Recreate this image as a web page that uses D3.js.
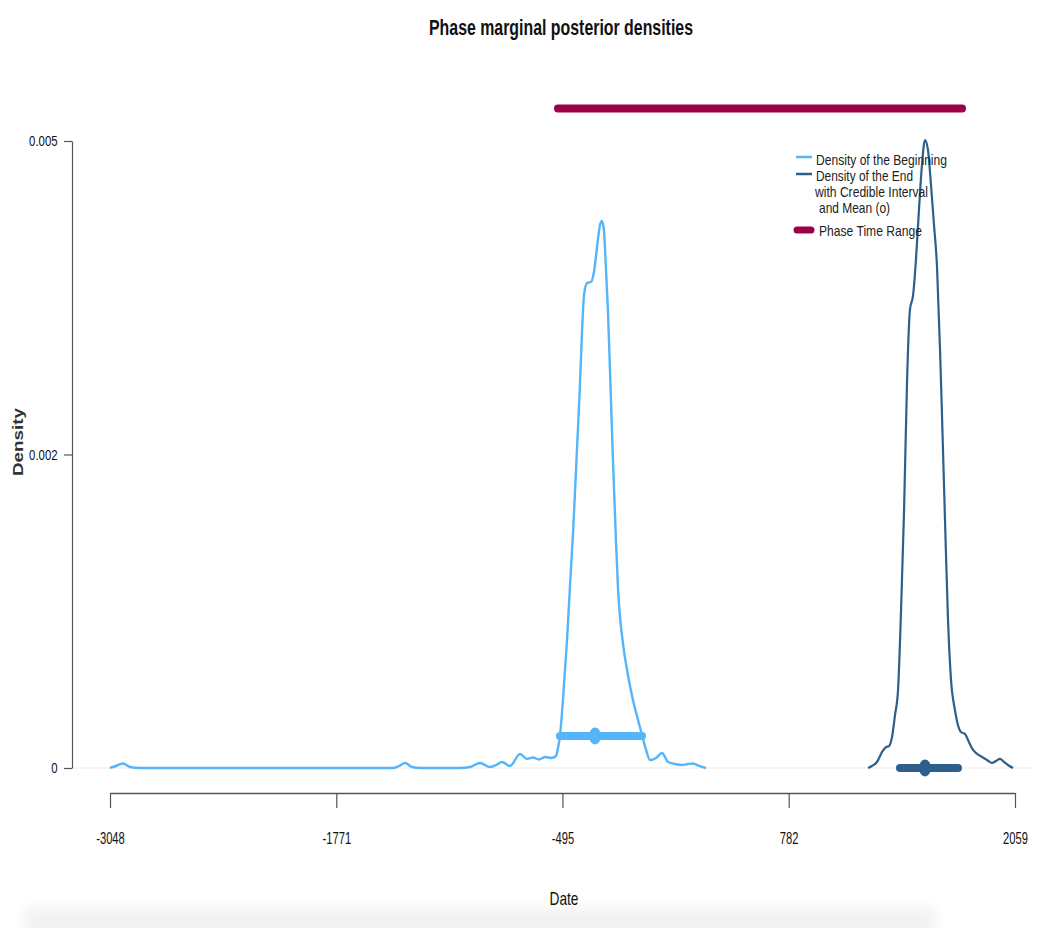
<!DOCTYPE html>
<html><head><meta charset="utf-8">
<script src="https://cdn.jsdelivr.net/npm/d3@7"></script>
<style>body{margin:0;background:#fff;} svg{display:block;font-family:"Liberation Sans",Arial,Helvetica,sans-serif;}</style>
</head><body><svg id="c" width="1041" height="928"></svg>
<script>
// ---- data ----
const beginDates = [-3048,-3014,-2975,-2935,-2879,-1451,-1417,-1383,-1344,-1299,-1073,-1016,-960,-904,-870,-836,-791,-734,-695,-661,-627,-593,-559,-531,-520,-509,-492,-469,-452,-435,-413,-396,-384,-373,-356,-334,-317,-300,-283,-272,-260,-249,-238,-221,-210,-193,-181,-153,-125,-97,-68,-46,-23,-1,33,67,101,140,180,214,242,276,315];
const beginDensity = [0,0.000016,0.000036,0.000008,0,0,0.000016,0.00004,0.000008,0,0,0.000008,0.00004,0.000008,0.000024,0.000048,0.000016,0.000112,0.000072,0.000084,0.000068,0.000088,0.00008,0.000096,0.000159,0.000255,0.000542,0.001021,0.001459,0.001874,0.002536,0.003054,0.003493,0.003772,0.003868,0.003876,0.003955,0.004147,0.00433,0.004362,0.004274,0.003971,0.003644,0.002935,0.002464,0.001818,0.001427,0.000989,0.000742,0.000542,0.000383,0.000263,0.000144,0.000064,0.00008,0.00012,0.000048,0.000032,0.000024,0.000032,0.000036,0.000016,0];
const endDates = [1230,1252,1280,1309,1331,1348,1365,1382,1399,1416,1433,1450,1466,1484,1500,1517,1534,1551,1568,1585,1602,1619,1636,1647,1664,1681,1698,1720,1737,1754,1777,1799,1822,1845,1873,1901,1929,1952,1974,1997,2019,2048];
const endDensity = [0,0.000016,0.000048,0.000128,0.000167,0.000175,0.000247,0.000423,0.000622,0.00126,0.002057,0.003094,0.003652,0.003772,0.004051,0.00445,0.004809,0.005008,0.004928,0.004649,0.00433,0.003995,0.003333,0.002815,0.001978,0.00118,0.000702,0.000463,0.000343,0.000287,0.000271,0.000207,0.000144,0.000112,0.000088,0.000064,0.00004,0.000056,0.000072,0.000048,0.000024,0];
const beginCI = [-509, -46];
const beginMean = -311;
const beginCILevel = 0.000255;
const endCI = [1410, 1737];
const endMean = 1551;
const endCILevel = 0;
const phaseRange = [-520, 1760];
const phaseLevel = 0.00526;
const xTicks = [-3048, -1771, -495, 782, 2059];
const yTicks = [0, 0.0025, 0.005];
const yTickLabels = ["0", "0.002", "0.005"];
const legendLabels = ["Density of the Beginning", "Density of the End", "with Credible Interval", " and Mean (o)", "Phase Time Range"];

// ---- styles ----
const cBegin = "#55B5F8", cEnd = "#2D5F8C", cPhase = "#990045", cAxis = "#555";

const svg = d3.select("#c");
const x = d3.scaleLinear().domain([-3048, 2059]).range([110, 1015]);
const y = d3.scaleLinear().domain([0, 0.005]).range([768, 141]);

// faint bottom band (screenshot shading)
const defs = svg.append("defs");
const f = defs.append("filter").attr("id","blur").attr("x","-10%").attr("y","-50%").attr("width","120%").attr("height","200%");
f.append("feGaussianBlur").attr("stdDeviation",6);
svg.append("rect").attr("x",25).attr("y",908).attr("width",910).attr("height",30).attr("fill","#f2f2f2").attr("filter","url(#blur)");

function txt(parent, s, xx, yy, size, len, opts={}) {
  const t = parent.append("text").attr("x",xx).attr("y",yy).attr("font-size",size)
    .attr("fill", opts.fill || "#111").attr("text-anchor", opts.anchor || "middle")
    .attr("font-weight", opts.weight || "normal").text(s);
  if (len) t.attr("textLength", len).attr("lengthAdjust","spacingAndGlyphs");
  if (opts.transform) t.attr("transform", opts.transform);
  return t;
}

// title
txt(svg, "Phase marginal posterior densities", 561, 35, 22, 264, {weight:"bold"});

// zero baseline
svg.append("line").attr("x1",72).attr("x2",1032).attr("y1",y(0)).attr("y2",y(0))
  .attr("stroke","#ececec").attr("stroke-width",1);

// x axis
const xa = svg.append("g").attr("transform","translate(0,793)")
  .call(d3.axisBottom(x).tickValues(xTicks).tickFormat(d=>String(d)).tickSize(15).tickSizeOuter(0).tickPadding(25));
xa.select(".domain").attr("stroke",cAxis).attr("stroke-width",1.5);
xa.selectAll(".tick line").attr("stroke",cAxis).attr("stroke-width",1.2);
xa.selectAll(".tick text").attr("font-size",16).attr("fill","#111").attr("font-family",null)
  .attr("transform","scale(0.7,1)");

// y axis
const ya = svg.append("g").attr("transform","translate(72,0)")
  .call(d3.axisLeft(y).tickValues(yTicks).tickFormat((d,i)=>yTickLabels[i]).tickSize(8).tickSizeOuter(0).tickPadding(6));
ya.select(".domain").attr("stroke",cAxis).attr("stroke-width",1.2);
ya.selectAll(".tick text").attr("font-size",15).attr("fill","#111").attr("font-family",null)
  .attr("transform","scale(0.76,1)").attr("x",-19);
ya.selectAll(".tick line").attr("stroke",cAxis).attr("stroke-width",1.2);

// axis titles
txt(svg, "Date", 0, 0, 19, 29, {transform:"translate(564,905)"});
txt(svg, "Density", 0, 0, 15, 68, {transform:"translate(23,442) rotate(-90)", weight:"bold", fill:"#333"});

// phase range
svg.append("line").attr("x1",x(phaseRange[0])).attr("x2",x(phaseRange[1]))
  .attr("y1",y(phaseLevel)).attr("y2",y(phaseLevel))
  .attr("stroke",cPhase).attr("stroke-width",8).attr("stroke-linecap","round");

// densities
const line = d3.line().x(d=>x(d[0])).y(d=>y(d[1])).curve(d3.curveMonotoneX);
svg.append("path").datum(beginDates.map((d,i)=>[d,beginDensity[i]])).attr("d",line)
  .attr("fill","none").attr("stroke",cBegin).attr("stroke-width",2.4).attr("stroke-linejoin","round");
svg.append("path").datum(endDates.map((d,i)=>[d,endDensity[i]])).attr("d",line)
  .attr("fill","none").attr("stroke",cEnd).attr("stroke-width",2.2).attr("stroke-linejoin","round");

// credible intervals + means
function ci(range, level, mean, col) {
  svg.append("line").attr("x1",x(range[0])).attr("x2",x(range[1]))
    .attr("y1",y(level)).attr("y2",y(level))
    .attr("stroke",col).attr("stroke-width",8).attr("stroke-linecap","round");
  svg.append("ellipse").attr("cx",x(mean)).attr("cy",y(level)).attr("rx",6).attr("ry",8.5).attr("fill",col);
}
ci(beginCI, beginCILevel, beginMean, cBegin);
ci(endCI, endCILevel, endMean, cEnd);

// legend
const lg = svg.append("g");
const legendRows = [
  {t:legendLabels[0], y:165, len:131, col:cBegin, w:2.5, ly:157, lx:816},
  {t:legendLabels[1], y:181, len:97, col:cEnd, w:2.5, ly:174, lx:816},
  {t:legendLabels[2], y:197, len:113, lx:815},
  {t:legendLabels[3], y:213, len:71, lx:819},
  {t:legendLabels[4], y:236, len:103, col:cPhase, w:7, ly:230, lx:819}
];
legendRows.forEach(r=>{
  if (r.col) lg.append("line").attr("x1",r.col===cPhase?797:796).attr("x2",r.col===cPhase?811:812)
    .attr("y1",r.ly).attr("y2",r.ly).attr("stroke",r.col).attr("stroke-width",r.w).attr("stroke-linecap",r.col===cPhase?"round":"butt");
  txt(lg, r.t.trim(), r.lx, r.y, 15, r.len, {anchor:"start", fill:"#222"});
});
</script></body></html>
